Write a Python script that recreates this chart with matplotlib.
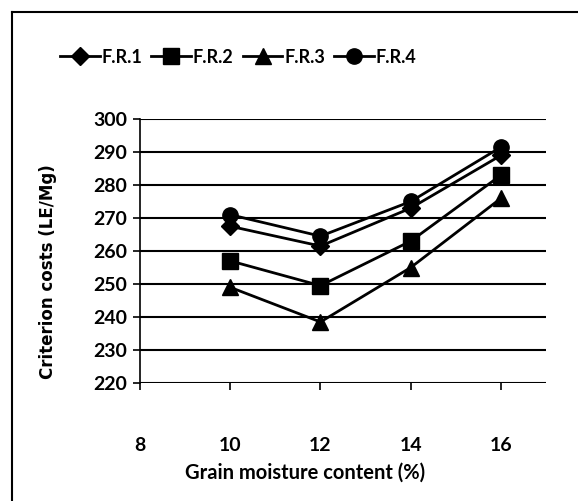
import matplotlib.pyplot as plt
from matplotlib.lines import Line2D

moisture = [10, 12, 14, 16]
fr1 = [267.5, 261.5, 273, 289]
fr2 = [257, 249.5, 263, 283]
fr3 = [249, 238.5, 255, 276]
fr4 = [271, 264.5, 275, 291.5]
series = [("F.R.1", fr1, "D"), ("F.R.2", fr2, "s"), ("F.R.3", fr3, "^"), ("F.R.4", fr4, "o")]

plt.rcParams['font.family'] = ['Lato', 'DejaVu Sans']
plt.rcParams['font.weight'] = 'bold'

fig = plt.figure(figsize=(5.78, 5.01), dpi=100)
ax = fig.add_axes([0.242, 0.2355, 0.703, 0.527])

for name, vals, mk in series:
    ms = 9 if mk == "D" else 11
    ax.plot(moisture, vals, color='black', lw=2, marker=mk, markersize=ms, label=name, zorder=3)

ax.set_xlim(8, 17)
ax.set_ylim(220, 300)
ax.set_xticks([8, 10, 12, 14, 16])
ax.set_yticks(range(220, 301, 10))
ax.grid(axis='y', color='black', lw=1.5)
ax.set_axisbelow(True)
for s in ['top', 'right', 'bottom']:
    ax.spines[s].set_visible(False)
ax.spines['left'].set_linewidth(1.2)
ax.tick_params(axis='both', labelsize=14, width=1.2, length=5, pad=4)
ax.tick_params(axis='x', pad=34)

ax.set_xlabel("Grain moisture content (%)", fontsize=14.5, fontweight='bold')
ax.xaxis.set_label_coords(0.406, -0.30)
ax.set_ylabel("Criterion costs (LE/Mg)", fontsize=12, fontweight='bold', family=['DejaVu Sans'])
ax.yaxis.set_label_coords(-0.204, 0.42)

fig.legend(loc='center', bbox_to_anchor=(0.412, 0.886), ncol=4, frameon=False,
           fontsize=13, handlelength=2.2, handletextpad=0.1, columnspacing=0.5)

# outer frame (left and top edges visible)
fig.add_artist(Line2D([0.021, 0.021], [0, 0.976], color='black', lw=1.5))
fig.add_artist(Line2D([0.021, 1.0], [0.976, 0.976], color='black', lw=1.5))

fig.savefig('out.png', dpi=100)
